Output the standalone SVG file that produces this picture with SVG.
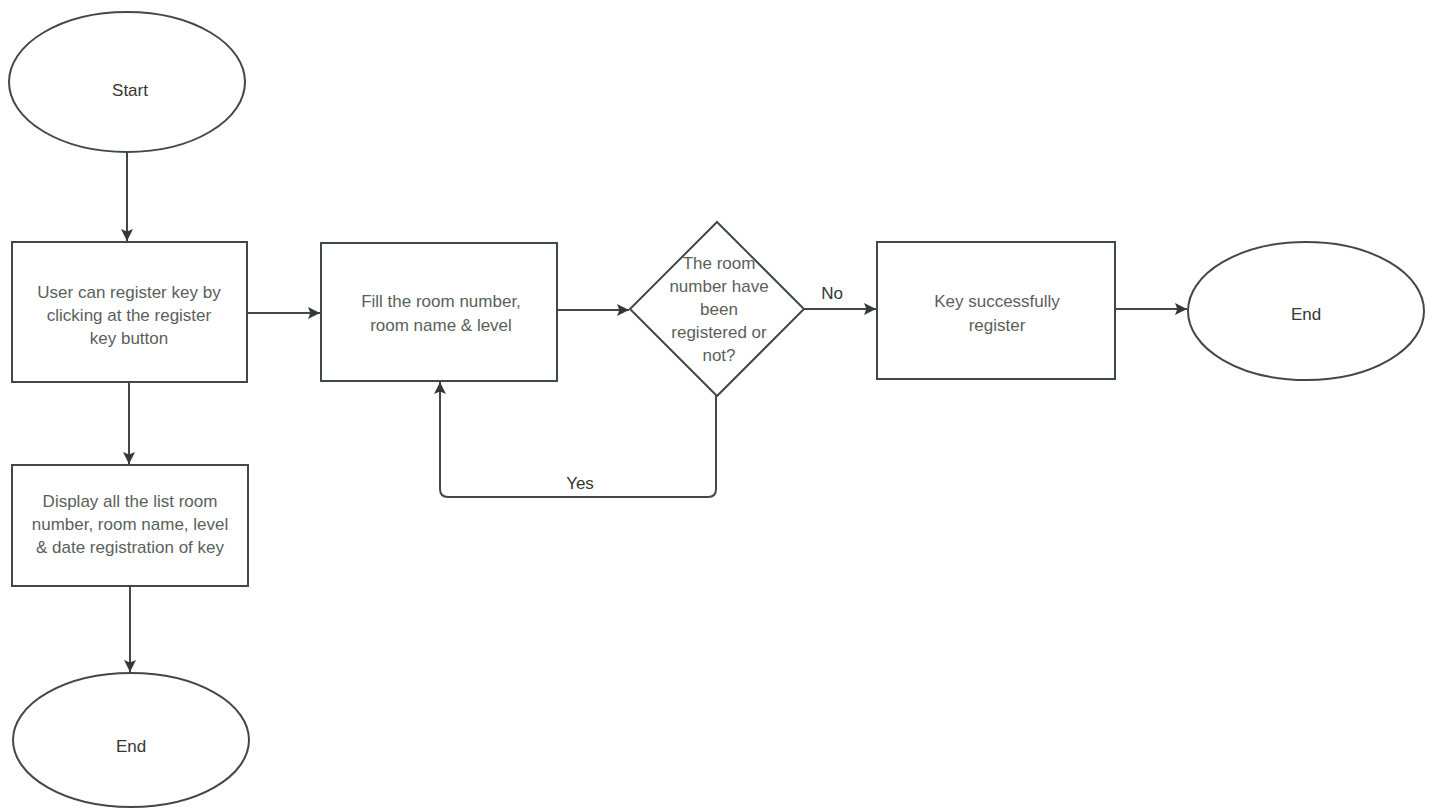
<svg xmlns="http://www.w3.org/2000/svg" width="1432" height="809" viewBox="0 0 1432 809">
<defs>
<style>
.shape{fill:#ffffff;stroke:#3f4a45;stroke-width:2}
.lbl{font-family:"Liberation Sans",Arial,sans-serif;font-size:17px;fill:#5a5f5c;text-anchor:middle}
.term{font-family:"Liberation Sans",Arial,sans-serif;font-size:17px;fill:#333833;text-anchor:middle}
.conn{fill:none;stroke:#3f4a45;stroke-width:2}
</style>
<marker id="arr" viewBox="0 0 10 10" refX="10" refY="5" markerWidth="6" markerHeight="6" orient="auto" markerUnits="strokeWidth">
<path d="M0,0 L10,5 L0,10 L2,5 Z" fill="#333a36"/>
</marker>
</defs>
<rect width="1432" height="809" fill="#ffffff"/>
<g id="connectors">
<line class="conn" x1="127" y1="152" x2="127" y2="241" marker-end="url(#arr)"/>
<line class="conn" x1="129" y1="382" x2="129" y2="464" marker-end="url(#arr)"/>
<line class="conn" x1="130" y1="586" x2="130" y2="672" marker-end="url(#arr)"/>
<line class="conn" x1="247" y1="313" x2="320" y2="313" marker-end="url(#arr)"/>
<line class="conn" x1="557" y1="310" x2="629" y2="310" marker-end="url(#arr)"/>
<line class="conn" x1="804" y1="309" x2="876" y2="309" marker-end="url(#arr)"/>
<line class="conn" x1="1115" y1="309" x2="1187" y2="309" marker-end="url(#arr)"/>
<path class="conn" d="M716,396 L716,489 Q716,497 708,497 L448,497 Q440,497 440,489 L440,382" marker-end="url(#arr)"/>
<text class="term" x="832" y="299">No</text>
<text class="term" x="580" y="489">Yes</text>
</g>
<g id="start">
<ellipse class="shape" cx="127" cy="82" rx="118" ry="70"/>
<text class="term" x="130" y="96">Start</text>
</g>
<g id="register">
<rect class="shape" x="12" y="242" width="235" height="140"/>
<text class="lbl" x="129" y="298">User can register key by</text>
<text class="lbl" x="129" y="321">clicking at the register</text>
<text class="lbl" x="129" y="344">key button</text>
</g>
<g id="display">
<rect class="shape" x="12" y="465" width="236" height="121"/>
<text class="lbl" x="130" y="507">Display all the list room</text>
<text class="lbl" x="130" y="530">number, room name, level</text>
<text class="lbl" x="130" y="553">&amp; date registration of key</text>
</g>
<g id="end1">
<ellipse class="shape" cx="131" cy="740" rx="118" ry="67"/>
<text class="term" x="131" y="752">End</text>
</g>
<g id="fill">
<rect class="shape" x="321" y="243" width="236" height="138"/>
<text class="lbl" x="441" y="307">Fill the room number,</text>
<text class="lbl" x="441" y="331">room name &amp; level</text>
</g>
<g id="decision">
<polygon class="shape" points="717,222 804,309 717,396 630,309"/>
<text class="lbl" x="719" y="269">The room</text>
<text class="lbl" x="719" y="292">number have</text>
<text class="lbl" x="719" y="315">been</text>
<text class="lbl" x="719" y="338">registered or</text>
<text class="lbl" x="719" y="361">not?</text>
</g>
<g id="success">
<rect class="shape" x="877" y="242" width="238" height="137"/>
<text class="lbl" x="997" y="307">Key successfully</text>
<text class="lbl" x="997" y="331">register</text>
</g>
<g id="end2">
<ellipse class="shape" cx="1306" cy="311" rx="118" ry="69"/>
<text class="term" x="1306" y="320">End</text>
</g>
</svg>
